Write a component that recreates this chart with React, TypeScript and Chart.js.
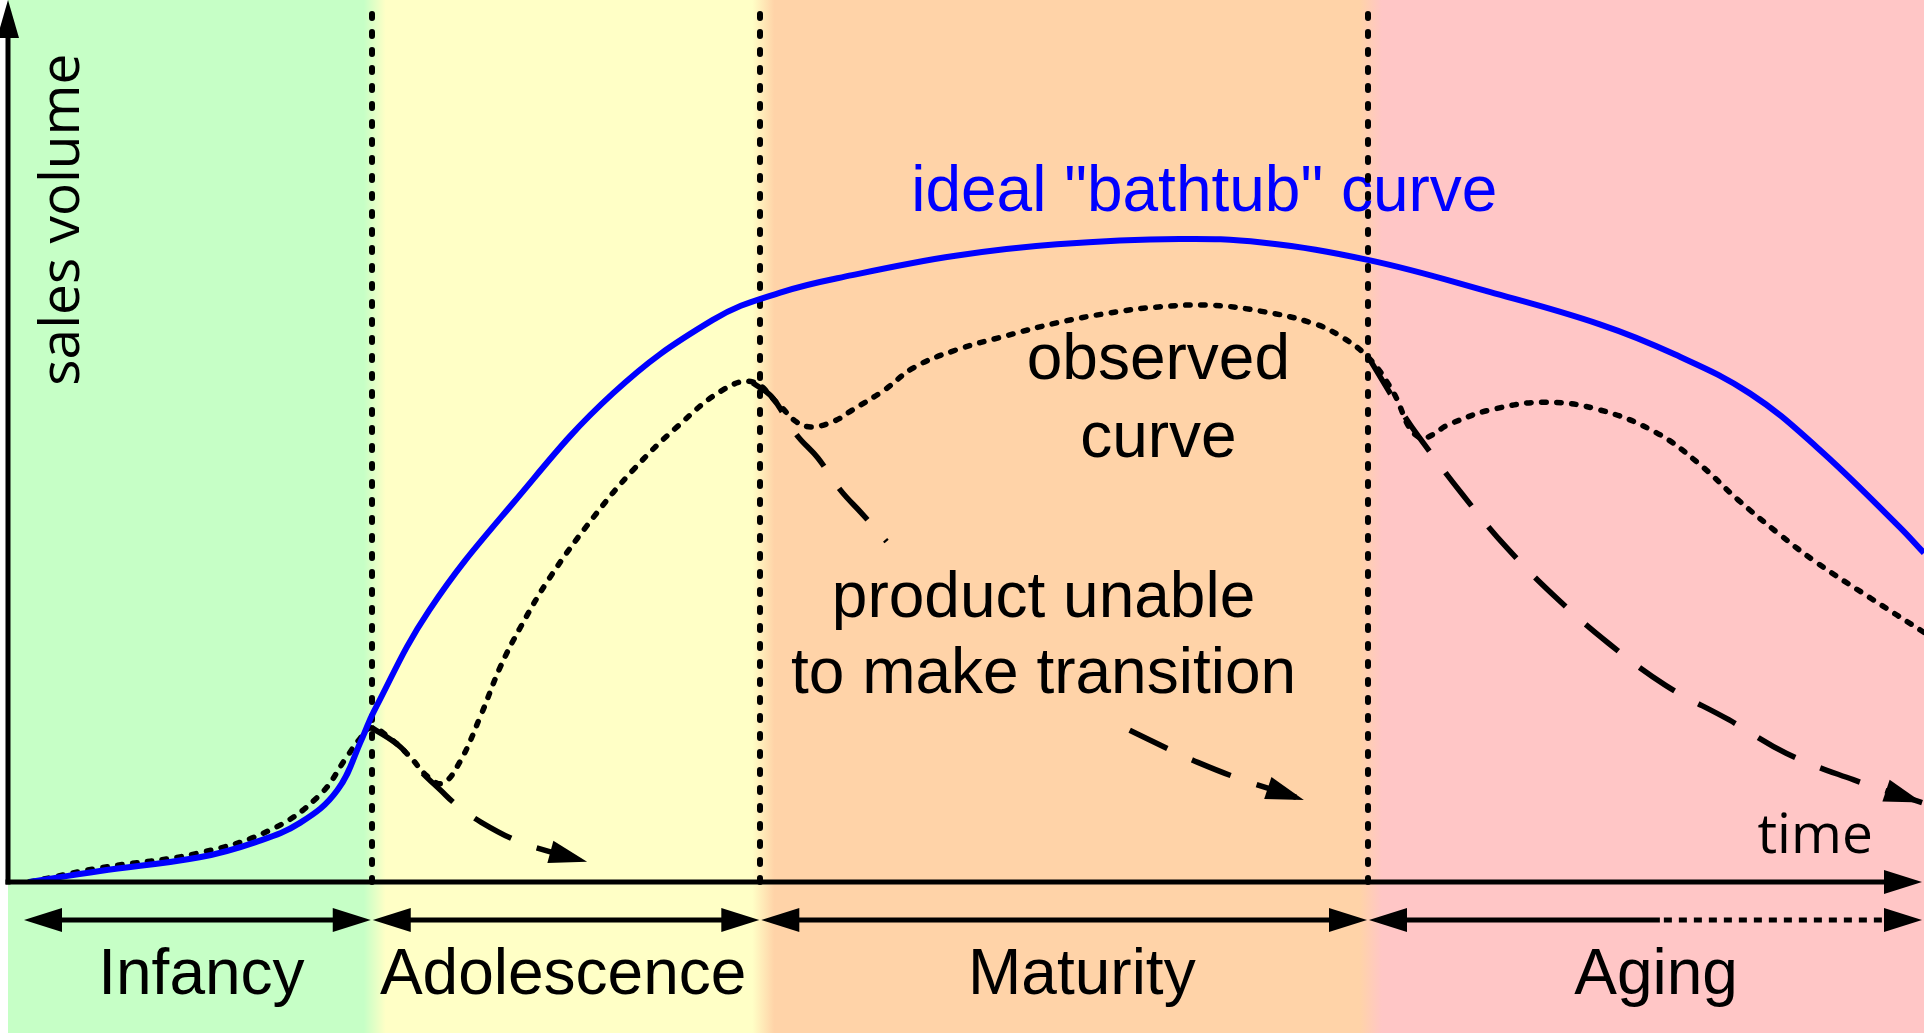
import React, { useEffect, useRef } from "react";
import { Chart, registerables } from "chart.js";

Chart.register(...registerables);

// ---------------- data (time 0..100, sales volume 0..100) ----------------
const phaseNames = ["Infancy", "Adolescence", "Maturity", "Aging"];
const phaseBounds = [0, 18.9, 39.2, 70.95, 100];
const phaseColors = ["rgb(198,255,198)", "rgb(255,255,198)", "rgb(255,211,168)", "rgb(255,198,198)"];
const phaseLabelTime = [10.0, 28.9, 56.0, 86.0];
const agingKnownUntil = 86.2;

const idealTime = [1.0, 4.7, 9.9, 12.8, 15.15, 17.1, 18.4, 19.0, 21.9, 26.3, 31.5, 36.7, 40.2, 44.0, 49.4, 54.7, 61.1, 65.4, 71.0, 77.3, 83.1, 87.0, 90.9, 94.4, 98.7, 100];
const idealSales = [0, 1.25, 2.8, 4.5, 6.7, 10.4, 16.3, 19.3, 30.8, 43.0, 55.4, 63.7, 66.8, 68.8, 71.0, 72.3, 72.9, 72.5, 70.5, 66.9, 63.2, 59.8, 55.4, 49.3, 40.3, 37.3];

const observedTime = [1.0, 4.7, 9.9, 13.7, 16.2, 17.6, 18.3, 18.9, 19.85, 20.9, 21.8, 22.6, 23.5, 24.6, 25.6, 26.65, 28.2, 30.5, 32.55, 34.85, 37.25, 38.8, 40.1, 41.1, 41.9, 43.1, 44.0, 45.7, 47.2, 49.4, 52.0, 54.7, 57.4, 60.0, 62.7, 65.4, 68.0, 69.5, 71.0, 72.2, 73.6, 75.3, 77.3, 80.2, 83.1, 86.05, 88.2, 90.3, 92.4, 94.4, 97.2, 100];
const observedSales = [0, 1.6, 3.3, 6.0, 9.9, 14.2, 16.3, 17.5, 16.3, 14.2, 12.0, 11.2, 13.6, 18.9, 24.3, 28.8, 34.5, 41.4, 46.7, 51.6, 55.8, 56.7, 54.3, 52.15, 51.6, 52.3, 53.5, 55.8, 58.3, 60.3, 61.9, 63.4, 64.5, 65.2, 65.4, 64.7, 63.4, 61.9, 59.4, 55.8, 50.45, 52.0, 53.5, 54.4, 53.5, 50.9, 47.5, 43.3, 39.5, 36.2, 32.2, 28.3];

// "product unable to make transition" paths
const failAdolTime = [18.9, 20.4, 21.4, 22.5, 23.35, 24.6, 26.5, 28.1, 30.15];
const failAdolSales = [17.5, 15.3, 12.7, 10.4, 8.7, 6.8, 4.65, 3.5, 2.3];
const failMatTime = [38.8, 39.8, 41.1, 42.2, 43.4, 44.5, 45.8, 52.0, 58.5, 60.6, 61.8, 64.0, 67.6];
const failMatSales = [56.6, 55.0, 50.7, 48.1, 44.4, 41.8, 38.6, null, 17.2, 15.0, 13.8, 11.9, 9.3];
const failAgingTime = [71.0, 72.6, 73.6, 75.9, 78.2, 80.8, 83.5, 86.5, 89.8, 92.8, 96.3, 99.9];
const failAgingSales = [59.4, 53.7, 50.5, 43.9, 37.9, 32.2, 27.1, 22.3, 18.4, 14.6, 11.6, 9.0];

// annotations
const noteTexts = ['ideal "bathtub" curve', "observed", "curve", "product unable", "to make transition"];
const noteTime = [62.4, 60.0, 60.0, 54.0, 54.0];
const noteSales = [76.1, 57.0, 48.2, 30.05, 21.4];
const noteColors = ["#0000FF", "#000000", "#000000", "#000000", "#000000"];

const yTitle = "sales volume";
const yTitleTime = 3.6;
const yTitleSales = 75.1;
const xTitle = "time";
const xTitleTime = 91.3;
const xTitleSales = 3.3;

const ARIAL = '"Liberation Sans", Arial, sans-serif';
const OPEN = '"Open Sans", sans-serif';

const zip = (t: number[], s: (number | null)[]) => t.map((x, i) => ({ x, y: s[i] }));

function arrowHead(ctx: CanvasRenderingContext2D, tx: number, ty: number, ang: number, len: number, half: number) {
  const dx = Math.cos(ang), dy = Math.sin(ang);
  const bx = tx - dx * len, by = ty - dy * len;
  ctx.beginPath();
  ctx.moveTo(tx, ty);
  ctx.lineTo(bx - dy * half, by + dx * half);
  ctx.lineTo(bx + dy * half, by - dx * half);
  ctx.closePath();
  ctx.fill();
}

const diagramPlugin = {
  id: "diagram",
  beforeDatasetsDraw(chart: any) {
    const { ctx, chartArea, scales } = chart;
    const xs = scales.x, ys = scales.y;
    const W = chart.width, H = chart.height;
    const clamp = (v: number) => Math.max(0, Math.min(1, v));
    ctx.save();
    ctx.fillStyle = "#ffffff";
    ctx.fillRect(0, 0, W, H);
    const left = chartArea.left - 2;
    const grad = ctx.createLinearGradient(0, 0, W, 0);
    phaseColors.forEach((c, i) => {
      const a = i === 0 ? left : xs.getPixelForValue(phaseBounds[i]) + 14;
      const b = i === phaseColors.length - 1 ? W : xs.getPixelForValue(phaseBounds[i + 1]) - 8;
      grad.addColorStop(clamp(a / W), c);
      grad.addColorStop(clamp(b / W), c);
    });
    ctx.fillStyle = grad;
    ctx.fillRect(left, 0, W - left, H);

    // annotations
    ctx.font = `64px ${ARIAL}`;
    ctx.textAlign = "center";
    ctx.textBaseline = "alphabetic";
    noteTexts.forEach((t, i) => {
      ctx.fillStyle = noteColors[i];
      ctx.fillText(t, xs.getPixelForValue(noteTime[i]), ys.getPixelForValue(noteSales[i]));
    });

    // phase boundaries
    ctx.strokeStyle = "#000";
    ctx.lineWidth = 6;
    ctx.lineCap = "round";
    ctx.setLineDash([4, 14]);
    for (let i = 1; i < phaseBounds.length - 1; i++) {
      const x = Math.round(xs.getPixelForValue(phaseBounds[i]));
      ctx.beginPath();
      ctx.moveTo(x, chartArea.bottom);
      ctx.lineTo(x, chartArea.top + 3);
      ctx.stroke();
    }
    ctx.restore();
  },
  afterDatasetsDraw(chart: any) {
    const { ctx, chartArea, scales } = chart;
    const xs = scales.x, ys = scales.y;
    const W = chart.width;
    ctx.save();
    ctx.fillStyle = "#000";
    ctx.strokeStyle = "#000";

    // arrowheads at the end of the "unable to make transition" paths
    [3, 4, 5].forEach((idx) => {
      const pts = chart.getDatasetMeta(idx).data;
      const last = pts[pts.length - 1];
      const prev = pts[pts.length - 2];
      let cx = last.cp1x, cy = last.cp1y;
      if (cx === undefined || (Math.abs(cx - last.x) < 0.5 && Math.abs(cy - last.y) < 0.5)) {
        cx = prev.x; cy = prev.y;
      }
      arrowHead(ctx, last.x, last.y, Math.atan2(last.y - cy, last.x - cx), 38, 11.5);
    });

    // axes
    ctx.setLineDash([]);
    ctx.lineCap = "butt";
    ctx.lineWidth = 5;
    const ax = chartArea.left - 2;
    const ay = chartArea.bottom;
    ctx.beginPath();
    ctx.moveTo(ax - 2.5, ay);
    ctx.lineTo(W - 30, ay);
    ctx.stroke();
    arrowHead(ctx, W - 2, ay, 0, 38, 12);
    ctx.beginPath();
    ctx.moveTo(ax, ay + 2.5);
    ctx.lineTo(ax, 30);
    ctx.stroke();
    arrowHead(ctx, ax, 0, -Math.PI / 2, 38, 11);

    // phase arrows
    const pyA = chartArea.bottom + 38;
    ctx.lineWidth = 5;
    for (let i = 0; i < phaseNames.length; i++) {
      const x0 = i === 0 ? chartArea.left + 14 : xs.getPixelForValue(phaseBounds[i]) + 1;
      const x1 = Math.min(xs.getPixelForValue(phaseBounds[i + 1]) - 1, W - 2);
      if (i === phaseNames.length - 1) {
        const xm = xs.getPixelForValue(agingKnownUntil);
        ctx.setLineDash([]);
        ctx.beginPath();
        ctx.moveTo(x0 + 30, pyA);
        ctx.lineTo(xm, pyA);
        ctx.stroke();
        ctx.setLineDash([8, 7]);
        ctx.beginPath();
        ctx.moveTo(xm + 4, pyA);
        ctx.lineTo(x1 - 30, pyA);
        ctx.stroke();
        ctx.setLineDash([]);
      } else {
        ctx.beginPath();
        ctx.moveTo(x0 + 30, pyA);
        ctx.lineTo(x1 - 30, pyA);
        ctx.stroke();
      }
      arrowHead(ctx, x0, pyA, Math.PI, 38, 12);
      arrowHead(ctx, x1, pyA, 0, 38, 12);
    }

    // phase labels
    ctx.font = `64px ${ARIAL}`;
    ctx.textAlign = "center";
    ctx.textBaseline = "alphabetic";
    phaseNames.forEach((n, i) => {
      ctx.fillText(n, xs.getPixelForValue(phaseLabelTime[i]), chartArea.bottom + 112);
    });

    // axis titles
    ctx.font = `55px ${OPEN}`;
    ctx.save();
    ctx.translate(xs.getPixelForValue(yTitleTime), ys.getPixelForValue(yTitleSales));
    ctx.rotate(-Math.PI / 2);
    ctx.textAlign = "center";
    ctx.fillText(yTitle, 0, 0);
    ctx.restore();
    ctx.textAlign = "left";
    ctx.fillText(xTitle, xs.getPixelForValue(xTitleTime), ys.getPixelForValue(xTitleSales));
    ctx.restore();
  },
};

export default function App() {
  const ref = useRef<HTMLCanvasElement>(null);
  useEffect(() => {
    document.body.style.margin = "0";
    document.body.style.overflow = "hidden";
    const common = { tension: 0.4, cubicInterpolationMode: "default", fill: false, pointRadius: 0, borderJoinStyle: "round" };
    const dotted = { ...common, borderColor: "#000", borderWidth: 5.5, borderDash: [4.5, 10.5], borderCapStyle: "round" };
    const dashed = { ...common, borderColor: "#000", borderWidth: 5.5, borderDash: [42, 27], borderCapStyle: "butt" };
    const chart = new Chart(ref.current!, {
      type: "line",
      data: {
        datasets: [
          { ...common, label: "ideal", data: zip(idealTime, idealSales), borderColor: "#0000FF", borderWidth: 6 },
          { ...dotted, label: "observed", data: zip(observedTime, observedSales) },
          { label: "spacer", data: [], borderWidth: 0, pointRadius: 0 },
          { ...dashed, label: "fail adolescence", data: zip(failAdolTime, failAdolSales) },
          { ...dashed, label: "fail maturity", data: zip(failMatTime, failMatSales), spanGaps: false },
          { ...dashed, label: "fail aging", data: zip(failAgingTime, failAgingSales) },
        ] as any,
      },
      options: {
        responsive: false,
        animation: false,
        devicePixelRatio: 1,
        events: [],
        layout: { padding: { left: 10, right: 0, top: 0, bottom: 151 } },
        elements: {
          point: { radius: 0, hoverRadius: 0 },
          line: { tension: 0.4 },
        },
        scales: {
          x: { type: "linear", min: 0, max: 100, display: false },
          y: { type: "linear", min: 0, max: 100, display: false },
        },
        plugins: { legend: { display: false }, tooltip: { enabled: false }, title: { display: false } },
      },
      plugins: [diagramPlugin],
    } as any);
    return () => chart.destroy();
  }, []);
  return (
    <canvas
      ref={ref}
      width={1924}
      height={1033}
      style={{ position: "absolute", left: 0, top: 0, width: 1924, height: 1033, display: "block" }}
    />
  );
}
